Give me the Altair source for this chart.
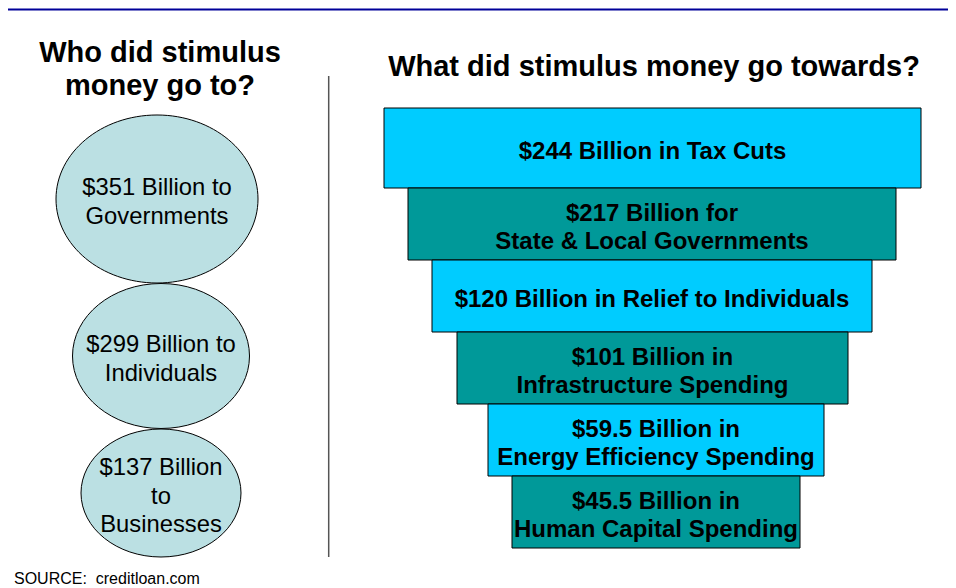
import altair as alt
import pandas as pd

# ---------------- data ----------------
left_title = "Who did stimulus\nmoney go to?"
right_title = "What did stimulus money go towards?"
source_note = "SOURCE:\u00a0 creditloan.com"

recipient_labels = [
    "$351 Billion to\nGovernments",
    "$299 Billion to\nIndividuals",
    "$137 Billion\nto\nBusinesses",
]
recipient_billions = [351, 299, 137]

use_labels = [
    "$244 Billion in Tax Cuts",
    "$217 Billion for\nState & Local Governments",
    "$120 Billion in Relief to Individuals",
    "$101 Billion in\nInfrastructure Spending",
    "$59.5 Billion in\nEnergy Efficiency Spending",
    "$45.5 Billion in\nHuman Capital Spending",
]
use_billions = [244, 217, 120, 101, 59.5, 45.5]

# ---------------- layout (page pixel coordinates) ----------------
W, H = 940, 580
MARGIN = 8
FONT = "Liberation Sans"

ellipse_cx = [157, 161, 161]
ellipse_cy = [199, 356, 493]
ellipse_w = [202, 177, 160]
ellipse_h = [168, 145, 128]
ellipse_fill = "#BBE0E3"

funnel_left = [384, 408, 432, 457, 488, 512]
funnel_right = [921, 896, 872, 848, 824, 800]
funnel_edges_y = [108, 188, 260, 332, 404, 476, 548]
funnel_colors = ["#00CCFF", "#009999"]

xs = alt.Scale(domain=[MARGIN, MARGIN + W], nice=False, zero=False)
ys = alt.Scale(domain=[MARGIN, MARGIN + H], reverse=True, nice=False, zero=False)


def X(f):
    return alt.X(f"{f}:Q", scale=xs, axis=None)


def Y(f):
    return alt.Y(f"{f}:Q", scale=ys, axis=None)


def ellipse_path(ratio):
    k = 0.5523
    r = ratio
    kr = k * r
    return (
        f"M1,0 C1,{kr:.4f} {k},{r:.4f} 0,{r:.4f} "
        f"C{-k},{r:.4f} -1,{kr:.4f} -1,0 "
        f"C-1,{-kr:.4f} {-k},{-r:.4f} 0,{-r:.4f} "
        f"C{k},{-r:.4f} 1,{-kr:.4f} 1,0 Z"
    )


def first_baseline(center, text, size, line_h, dy=2):
    n = text.count("\n") + 1
    return center + dy + 0.358 * size - (n - 1) * line_h / 2


# ---------------- tables ----------------
ell_df = pd.DataFrame({
    "label": recipient_labels,
    "billions": recipient_billions,
    "x": ellipse_cx,
    "y": ellipse_cy,
    "size": [w * w for w in ellipse_w],
    "shape": [ellipse_path(h / w) for w, h in zip(ellipse_w, ellipse_h)],
})
ell_df["ly"] = [first_baseline(c, t, 23.8, 28.5) for c, t in zip(ell_df["y"], ell_df["label"])]

bar_df = pd.DataFrame({
    "label": use_labels,
    "billions": use_billions,
    "x": funnel_left,
    "x2": funnel_right,
    "y": funnel_edges_y[:-1],
    "y2": funnel_edges_y[1:],
    "fill": [funnel_colors[i % 2] for i in range(len(use_labels))],
})
bar_df["cx"] = (bar_df["x"] + bar_df["x2"]) / 2
bar_df["ly"] = [
    first_baseline((a + b) / 2, t, 24, 28)
    for a, b, t in zip(bar_df["y"], bar_df["y2"], bar_df["label"])
]

rules_df = pd.DataFrame({
    "x": [0, 328.7],
    "x2": [956, 328.7],
    "y": [9.5, 76],
    "y2": [9.5, 557],
    "color": ["#000099", "#555555"],
    "w": [2.0, 1.5],
})

titles_df = pd.DataFrame({
    "text": [left_title, right_title],
    "x": [160, 654],
    "y": [62, 76],
})

source_df = pd.DataFrame({"text": [source_note], "x": [14], "y": [584]})

# ---------------- layers ----------------
rules = alt.Chart(rules_df).mark_rule().encode(
    x=X("x"), x2="x2", y=Y("y"), y2="y2",
    color=alt.Color("color:N", scale=None),
    strokeWidth=alt.StrokeWidth("w:Q", scale=None),
)

bars = alt.Chart(bar_df).mark_rect(stroke="black", strokeWidth=1).encode(
    x=X("x"), x2="x2", y=Y("y"), y2="y2",
    fill=alt.Fill("fill:N", scale=None),
)

bar_text = alt.Chart(bar_df).mark_text(
    font=FONT, fontSize=24, fontWeight="bold", lineBreak="\n", lineHeight=28,
    align="center", baseline="alphabetic", color="black",
).encode(x=X("cx"), y=Y("ly"), text="label:N")

ellipses = alt.Chart(ell_df).mark_point(
    filled=True, fill=ellipse_fill, stroke="black", strokeWidth=1,
    opacity=1, fillOpacity=1, strokeOpacity=1,
).encode(
    x=X("x"), y=Y("y"),
    size=alt.Size("size:Q", scale=None),
    shape=alt.Shape("shape:N", scale=None),
)

ell_text = alt.Chart(ell_df).mark_text(
    font=FONT, fontSize=23.8, lineBreak="\n", lineHeight=28.5,
    align="center", baseline="alphabetic", color="black",
).encode(x=X("x"), y=Y("ly"), text="label:N")

titles = alt.Chart(titles_df).mark_text(
    font=FONT, fontSize=29, fontWeight="bold", lineBreak="\n", lineHeight=33,
    align="center", baseline="alphabetic", color="black",
).encode(x=X("x"), y=Y("y"), text="text:N")

source = alt.Chart(source_df).mark_text(
    font=FONT, fontSize=16, align="left", baseline="alphabetic", color="black",
).encode(x=X("x"), y=Y("y"), text="text:N")

chart = alt.layer(
    rules, bars, bar_text, ellipses, ell_text, titles, source
).properties(
    width=W, height=H, padding=0,
    autosize=alt.AutoSizeParams(type="none"),
    background="white",
).configure_view(strokeWidth=0)

chart.save("out.html", embed_options={"renderer": "svg", "actions": False})
